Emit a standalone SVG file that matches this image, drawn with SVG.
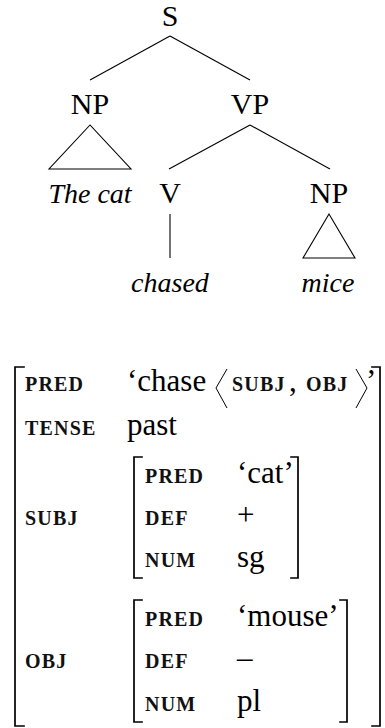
<svg xmlns="http://www.w3.org/2000/svg" width="385" height="728" viewBox="0 0 385 728">
  <style>
    .cat { font-family: "Liberation Serif", "Times New Roman", serif; font-size: 30px; fill: #000; text-anchor: middle; }
    .word { font-family: "Liberation Serif", "Times New Roman", serif; font-size: 28px; font-style: italic; fill: #000; text-anchor: middle; }
    .edge { stroke: #000; stroke-width: 1.1; fill: none; }
    .tri { stroke: #000; stroke-width: 1.1; fill: none; stroke-linejoin: miter; }
    .attr { font-family: "Liberation Serif", "Times New Roman", serif; font-size: 20px; font-weight: bold; letter-spacing: 1.2px; fill: #111; }
    .val { font-family: "Liberation Serif", "Times New Roman", serif; font-size: 31px; fill: #000; }
    .brk { stroke: #000; stroke-width: 1.7; fill: none; stroke-linecap: square; }
    .ang { stroke: #000; stroke-width: 1; fill: none; }
  </style>

  <!-- phrase-structure tree -->
  <g id="connectors">
    <line class="edge" x1="170" y1="36" x2="90" y2="80"/>
    <line class="edge" x1="170" y1="36" x2="250" y2="80"/>
    <polygon class="tri" points="90,125 49,169 131,169"/>
    <line class="edge" x1="250" y1="125" x2="169" y2="169"/>
    <line class="edge" x1="250" y1="125" x2="330" y2="169"/>
    <line class="edge" x1="170" y1="214" x2="170" y2="258"/>
    <polygon class="tri" points="329,214 303,258 355,258"/>
  </g>

  <g id="node-s"><text class="cat" x="170" y="26">S</text></g>
  <g id="node-np-subj"><text class="cat" x="90" y="114">NP</text></g>
  <g id="node-vp"><text class="cat" x="250" y="114">VP</text></g>
  <g id="leaf-the-cat"><text class="word" x="90" y="203">The cat</text></g>
  <g id="node-v"><text class="cat" x="170" y="203">V</text></g>
  <g id="node-np-obj"><text class="cat" x="329" y="203">NP</text></g>
  <g id="leaf-chased"><text class="word" x="170" y="292">chased</text></g>
  <g id="leaf-mice"><text class="word" x="328" y="292">mice</text></g>

  <!-- f-structure (attribute-value matrix) -->
  <g id="fstructure">
    <path class="brk" d="M24,367 H15 V726 H24"/>
    <path class="brk" d="M372,367 H380 V726 H372"/>

    <g id="row-pred">
      <text class="attr" x="25" y="391">PRED</text>
      <text class="val" x="127" y="391">‘chase</text>
      <polyline class="ang" points="227,369 216,388 227,408"/>
      <text class="attr" x="232" y="391">SUBJ</text>
      <text class="val" x="289" y="391">,</text>
      <text class="attr" x="306" y="391">OBJ</text>
      <polyline class="ang" points="356,369 367,388 356,408"/>
      <text class="val" x="366" y="391">’</text>
    </g>

    <g id="row-tense">
      <text class="attr" x="25" y="435">TENSE</text>
      <text class="val" x="127" y="435">past</text>
    </g>

    <g id="row-subj">
      <text class="attr" x="25" y="525">SUBJ</text>
      <path class="brk" d="M142,457 H134 V578 H142"/>
      <path class="brk" d="M291,457 H298 V578 H291"/>
      <text class="attr" x="145" y="483">PRED</text>
      <text class="val" x="237" y="483">‘cat’</text>
      <text class="attr" x="145" y="525">DEF</text>
      <text class="val" x="237" y="525">+</text>
      <text class="attr" x="145" y="567">NUM</text>
      <text class="val" x="237" y="567">sg</text>
    </g>

    <g id="row-obj">
      <text class="attr" x="25" y="668">OBJ</text>
      <path class="brk" d="M142,600 H134 V722 H142"/>
      <path class="brk" d="M340,600 H347 V722 H340"/>
      <text class="attr" x="145" y="626">PRED</text>
      <text class="val" x="237" y="626">‘mouse’</text>
      <text class="attr" x="145" y="668">DEF</text>
      <text class="val" x="237" y="668">–</text>
      <text class="attr" x="145" y="711">NUM</text>
      <text class="val" x="237" y="711">pl</text>
    </g>
  </g>
</svg>
